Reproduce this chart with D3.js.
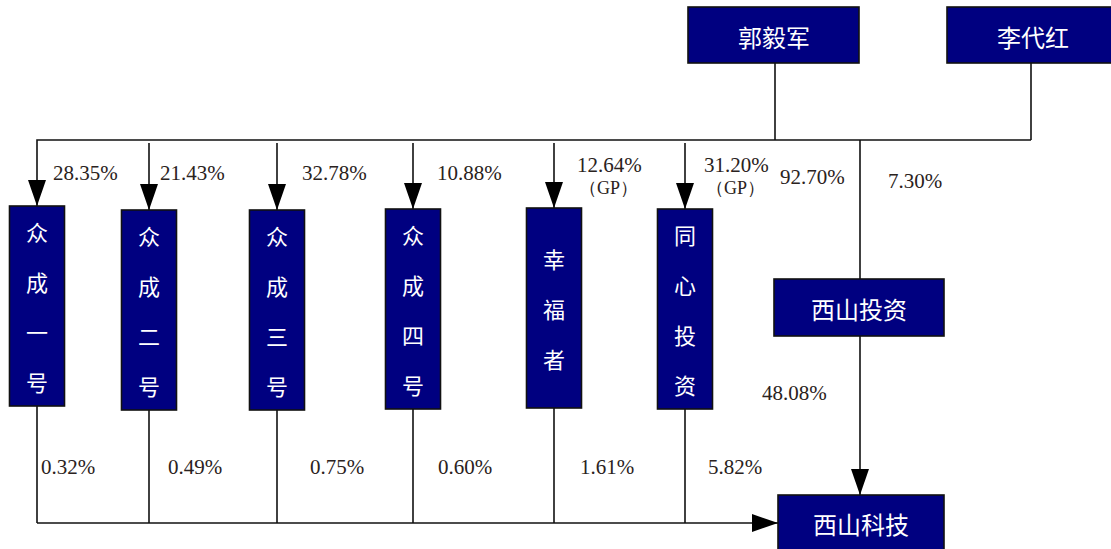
<!DOCTYPE html>
<html>
<head>
<meta charset="utf-8">
<script src="https://cdn.jsdelivr.net/npm/d3@7"></script>
<style>
  body { margin: 0; background: #fff; }
  svg { display: block; }
</style>
</head>
<body>
<div id="container"></div>
<script>
'use strict'

// data
const holders = ['郭毅军', '李代红'];
const platforms = ['众成一号', '众成二号', '众成三号', '众成四号', '幸福者', '同心投资'];
const guoStake = ['28.35%', '21.43%', '32.78%', '10.88%', '12.64%', '31.20%'];
const gpFlag = [false, false, false, false, true, true];
const platformStake = ['0.32%', '0.49%', '0.75%', '0.60%', '1.61%', '5.82%'];
const investStake = ['92.70%', '7.30%'];   // 郭毅军, 李代红 -> 西山投资
const investName = '西山投资';
const investToCompany = '48.08%';
const company = '西山科技';

const w = 1111, h = 549;
const navy = '#000080';
const ink = '#111';
const txt = '#2a2220';

// layout scales
const colX = d3.scaleOrdinal().domain(platforms).range([37, 149, 277, 413, 554, 685]);
const topLabX = d3.scaleOrdinal().domain(platforms).range([53, 160, 302, 437, 577, 704]);
const botLabX = d3.scaleOrdinal().domain(platforms).range([41, 168, 310, 438, 580, 708]);
const boxTop = d3.scaleOrdinal().domain(platforms).range([206, 210, 210, 209, 208, 209]);
const holderX = d3.scaleOrdinal().domain(holders).range([688, 947]);
const holderLineX = d3.scaleOrdinal().domain(holders).range([775, 1031]);

const busY = 140, bottomY = 523;
const boxW = 55, boxH = 200;
const investX = 860;

const svg = d3.select('#container').append('svg')
  .attr('width', w).attr('height', h);

const defs = svg.append('defs');
defs.append('marker')
  .attr('id', 'arrow')
  .attr('markerUnits', 'userSpaceOnUse')
  .attr('viewBox', '0 0 26 18')
  .attr('refX', 26).attr('refY', 9)
  .attr('markerWidth', 26).attr('markerHeight', 18)
  .attr('orient', 'auto')
  .append('path').attr('d', 'M0,0 L26,9 L0,18 Z').attr('fill', '#000');

const lines = svg.append('g').attr('stroke', ink).attr('stroke-width', 1.6).attr('fill', 'none');

// holders down to bus
lines.selectAll('.hl').data(holders).enter().append('line')
  .attr('x1', d => holderLineX(d)).attr('x2', d => holderLineX(d))
  .attr('y1', 63).attr('y2', busY);

// bus line
lines.append('path')
  .attr('d', `M${holderLineX('李代红')},${busY} H${colX(platforms[0])} V${boxTop(platforms[0])}`)
  .attr('marker-end', 'url(#arrow)');

// arrows into platforms (except first, handled by corner)
lines.selectAll('.pa').data(platforms.slice(1)).enter().append('line')
  .attr('x1', d => colX(d)).attr('x2', d => colX(d))
  .attr('y1', busY + 3).attr('y2', d => boxTop(d))
  .attr('marker-end', 'url(#arrow)');

// bus down to 西山投资
lines.append('line')
  .attr('x1', investX).attr('x2', investX).attr('y1', busY).attr('y2', 280);

// 西山投资 -> 西山科技
lines.append('line')
  .attr('x1', investX).attr('x2', investX).attr('y1', 336).attr('y2', 495)
  .attr('marker-end', 'url(#arrow)');

// platforms down to bottom bus
lines.selectAll('.pd').data(platforms).enter().append('line')
  .attr('x1', d => colX(d)).attr('x2', d => colX(d))
  .attr('y1', d => boxTop(d) + boxH).attr('y2', bottomY);

lines.append('line')
  .attr('x1', colX(platforms[0])).attr('x2', 778).attr('y1', bottomY).attr('y2', bottomY)
  .attr('marker-end', 'url(#arrow)');

// boxes
const boxStyle = sel => sel.attr('fill', navy).attr('stroke', ink).attr('stroke-width', 1.6);
const cjk = "'Noto Sans CJK SC', 'Noto Sans CJK JP', sans-serif";
const num = "'Liberation Serif', 'DejaVu Serif', serif";

// holders
const hg = svg.selectAll('.holder').data(holders).enter().append('g');
hg.append('rect').call(boxStyle)
  .attr('x', d => holderX(d)).attr('y', 7)
  .attr('width', d => d === '李代红' ? 170 : 171).attr('height', 56);
hg.append('text')
  .attr('x', d => holderX(d) + 86).attr('y', 36)
  .attr('text-anchor', 'middle').attr('dominant-baseline', 'central')
  .attr('fill', '#fff').style('font-family', cjk).style('font-size', '24px')
  .text(d => d);

// platforms (vertical text)
const pg = svg.selectAll('.plat').data(platforms).enter().append('g');
pg.append('rect').call(boxStyle)
  .attr('x', d => colX(d) - boxW / 2).attr('y', d => boxTop(d))
  .attr('width', boxW).attr('height', boxH);
pg.each(function(d) {
  const chars = Array.from(d);
  const cy = boxTop(d) + boxH / 2;
  d3.select(this).selectAll('text').data(chars).enter().append('text')
    .attr('x', colX(d))
    .attr('y', (c, i) => cy + (i - (chars.length - 1) / 2) * 50)
    .attr('text-anchor', 'middle').attr('dominant-baseline', 'central')
    .attr('fill', '#fff').style('font-family', cjk).style('font-size', '22px')
    .text(c => c);
});

// 西山投资 and 西山科技
const bigBoxes = [
  { name: investName, x: 774, y: 279, bw: 170, bh: 57 },
  { name: company, x: 778, y: 495, bw: 166, bh: 58 }
];
const bg = svg.selectAll('.big').data(bigBoxes).enter().append('g');
bg.append('rect').call(boxStyle)
  .attr('x', d => d.x).attr('y', d => d.y).attr('width', d => d.bw).attr('height', d => d.bh);
bg.append('text')
  .attr('x', d => d.x + d.bw / 2).attr('y', (d, i) => i === 0 ? d.y + 29 : 523)
  .attr('text-anchor', 'middle').attr('dominant-baseline', 'central')
  .attr('fill', '#fff').style('font-family', cjk).style('font-size', '24px')
  .text(d => d.name);

// percentage labels
const labels = svg.append('g').attr('fill', txt).style('font-family', num).style('font-size', '21px');

labels.selectAll('.tl').data(platforms).enter().append('text')
  .attr('x', d => topLabX(d))
  .attr('y', (d, i) => gpFlag[i] ? 165 : 173)
  .attr('dominant-baseline', 'central')
  .text((d, i) => guoStake[i]);

labels.selectAll('.gp').data(platforms.filter((d, i) => gpFlag[i])).enter().append('text')
  .attr('x', d => topLabX(d) + 2)
  .attr('y', 188)
  .attr('dominant-baseline', 'central')
  .style('font-size', '18px')
  .text('（GP）');

labels.selectAll('.bl').data(platforms).enter().append('text')
  .attr('x', d => botLabX(d))
  .attr('y', 467)
  .attr('dominant-baseline', 'central')
  .text((d, i) => platformStake[i]);

labels.selectAll('.il').data(investStake).enter().append('text')
  .attr('x', (d, i) => i === 0 ? 780 : 888)
  .attr('y', (d, i) => i === 0 ? 177 : 181)
  .attr('dominant-baseline', 'central')
  .text(d => d);

labels.append('text')
  .attr('x', 762).attr('y', 393)
  .attr('dominant-baseline', 'central')
  .text(investToCompany);
</script>
</body>
</html>
